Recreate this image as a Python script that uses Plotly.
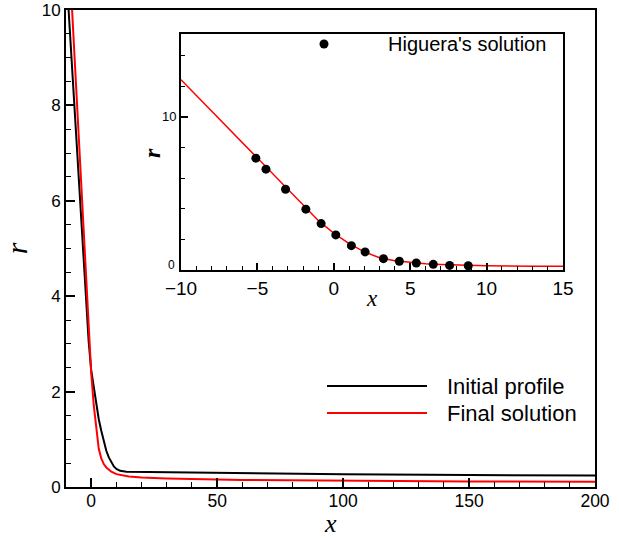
import plotly.graph_objects as go

# ---- data ----
init_x = [-10, -9, -8, -7, -6, -5, -4, -3, -2, -1, 0, 1, 2, 3, 4, 5, 6, 7, 8, 9, 10, 11.5, 14, 30, 60, 100, 150, 200]
init_r = [10.9, 10.0, 9.1, 8.2, 7.3, 6.4, 5.55, 4.7, 3.85, 3.05, 2.45, 2.1, 1.75, 1.42, 1.18, 0.95, 0.76, 0.62, 0.51, 0.43, 0.38, 0.34, 0.32, 0.31, 0.285, 0.265, 0.25, 0.24]

final_x = [-10, -9, -8, -7, -6, -5, -4, -3, -2, -1, 0, 1, 2, 3, 4, 5, 6, 7, 8, 10, 13, 15, 20, 30, 60, 100, 150, 200]
final_r = [12.42, 11.4, 10.38, 9.36, 8.34, 7.32, 6.3, 5.28, 4.22, 3.22, 2.4, 1.72, 1.18, 0.8, 0.6, 0.48, 0.41, 0.36, 0.32, 0.27, 0.24, 0.22, 0.2, 0.18, 0.148, 0.13, 0.115, 0.11]

hig_x = [-5.10, -4.44, -3.16, -1.83, -0.83, 0.13, 1.15, 2.05, 3.25, 4.29, 5.40, 6.51, 7.58, 8.80]
hig_r = [7.30, 6.58, 5.27, 3.97, 3.03, 2.29, 1.59, 1.18, 0.74, 0.57, 0.46, 0.37, 0.30, 0.28]

main_legend = ["Initial profile", "Final solution"]
main_colors = ["black", "#ff0000"]
inset_legend = "Higuera's solution"
inset_yticks = [0, 10]

W, H = 619, 540
SANS = "Arial, Liberation Sans, sans-serif"
SERIF = "Times New Roman, Liberation Serif, serif"

fig = go.Figure()
fig.add_trace(go.Scatter(x=init_x, y=init_r, mode="lines", name=main_legend[0],
                         line=dict(color=main_colors[0], width=2), xaxis="x", yaxis="y", showlegend=False))
fig.add_trace(go.Scatter(x=final_x, y=final_r, mode="lines", name=main_legend[1],
                         line=dict(color=main_colors[1], width=2), xaxis="x", yaxis="y", showlegend=False))
fig.add_trace(go.Scatter(x=final_x, y=final_r, mode="lines", name=main_legend[1],
                         line=dict(color=main_colors[1], width=1.5), xaxis="x2", yaxis="y2", showlegend=False))
fig.add_trace(go.Scatter(x=hig_x, y=hig_r, mode="markers", name=inset_legend,
                         marker=dict(color="black", size=9), xaxis="x2", yaxis="y2", showlegend=False))

axis_common = dict(showline=True, linewidth=2, linecolor="black", mirror=True,
                   ticks="inside", tickcolor="black", showgrid=False, zeroline=False,
                   color="black", automargin=False, ticklabeloverflow="allow")

fig.update_layout(
    width=W, height=H, margin=dict(l=0, r=0, t=0, b=0),
    paper_bgcolor="white", plot_bgcolor="white",
    font=dict(family=SANS, color="black"),
    xaxis=dict(domain=[66 / W, 595 / W], range=[-10, 200], anchor="y",
               tick0=0, dtick=50, ticklen=9, tickwidth=2,
               minor=dict(ticks="inside", tick0=0, dtick=10, ticklen=5, tickwidth=1, tickcolor="black"),
               tickfont=dict(size=17.5, family=SANS), ticklabelstandoff=-3,
               **axis_common),
    yaxis=dict(domain=[1 - 487 / H, 1 - 10 / H], range=[0, 10], anchor="x",
               tick0=0, dtick=2, ticklen=9, tickwidth=2,
               minor=dict(ticks="inside", tick0=0, dtick=0.5, ticklen=5, tickwidth=1, tickcolor="black"),
               tickfont=dict(size=17, family=SANS),
               title=dict(text="r", font=dict(family=SERIF, size=30, style="italic"), standoff=12),
               **axis_common),
    xaxis2=dict(domain=[181 / W, 563 / W], range=[-10, 15], anchor="y2",
                tick0=-10, dtick=5, ticklen=7, tickwidth=1.5,
                minor=dict(ticks="inside", tick0=-10, dtick=1, ticklen=4, tickwidth=1, tickcolor="black"),
                tickfont=dict(size=19, family=SANS), ticklabelstandoff=0,
                **axis_common),
    yaxis2=dict(domain=[1 - 270 / H, 1 - 34 / H], range=[0, 15.4], anchor="x2",
                tickvals=inset_yticks, ticktext=["" if v == 0 else str(v) for v in inset_yticks],
                ticklen=7, tickwidth=1.5,
                minor=dict(ticks="inside", tick0=0, dtick=2, ticklen=4, tickwidth=1, tickcolor="black"),
                tickfont=dict(size=13, family=SANS),
                **axis_common),
)

# inset "0" label sits raised above the corner, as in the original
fig.add_annotation(xref="paper", yref="paper", x=171 / W, y=1 - 265 / H, text=str(inset_yticks[0]),
                   showarrow=False, xanchor="center", yanchor="middle",
                   font=dict(family=SANS, size=12, color="black"))

# axis titles placed explicitly
fig.add_annotation(xref="paper", yref="paper", x=330 / W, y=0.001, text="<i>x</i>",
                   showarrow=False, xanchor="center", yanchor="bottom", borderpad=0,
                   font=dict(family=SERIF, size=26, color="black"))
fig.add_annotation(xref="paper", yref="paper", x=372 / W, y=1 - 298 / H, text="<i>x</i>",
                   showarrow=False, xanchor="center", yanchor="middle",
                   font=dict(family=SERIF, size=23, color="black"))
fig.add_annotation(xref="paper", yref="paper", x=152 / W, y=1 - 153 / H, text="<b><i>r</i></b>",
                   showarrow=False, xanchor="center", yanchor="middle", textangle=-90,
                   font=dict(family=SERIF, size=24, color="black"))

# ---- legends (drawn in paper space) ----
leg_y = [386, 413]
for name, col, yy in zip(main_legend, main_colors, leg_y):
    fig.add_shape(type="line", xref="paper", yref="paper",
                  x0=327 / W, x1=427 / W, y0=1 - yy / H, y1=1 - yy / H,
                  line=dict(color=col, width=2))
    fig.add_annotation(xref="paper", yref="paper", x=445 / W, y=1 - yy / H,
                       text=name, showarrow=False, xanchor="left", yanchor="middle",
                       font=dict(family=SANS, size=22, color="black"))

fig.add_shape(type="circle", xref="paper", yref="paper",
              x0=(324 - 4.5) / W, x1=(324 + 4.5) / W, y0=1 - (44 + 4.5) / H, y1=1 - (44 - 4.5) / H,
              fillcolor="black", line=dict(color="black", width=0))
fig.add_annotation(xref="paper", yref="paper", x=386 / W, y=1 - 44 / H,
                   text=inset_legend, showarrow=False, xanchor="left", yanchor="middle",
                   font=dict(family=SANS, size=20, color="black"))

fig.write_html("out.html")
